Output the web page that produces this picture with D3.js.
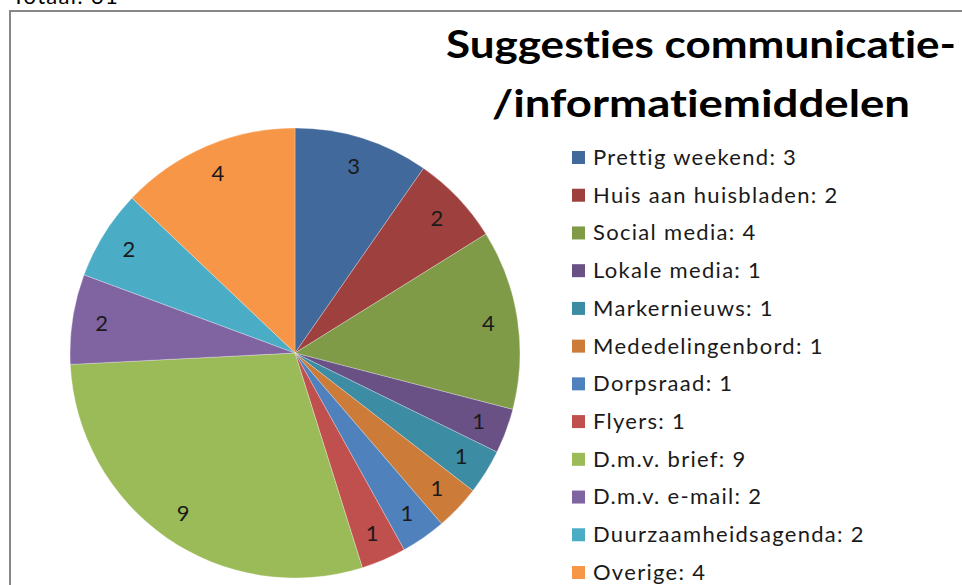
<!DOCTYPE html>
<html>
<head>
<meta charset="utf-8">
<script src="https://cdn.jsdelivr.net/npm/d3@7"></script>
<style>
  body { margin: 0; background: #fff; }
  svg { display: block; font-family: Lato, "Open Sans", sans-serif; font-variant-ligatures: none; }
</style>
</head>
<body>
<div id="chart"></div>
<script>
// Chart data
const categories = ["Prettig weekend", "Huis aan huisbladen", "Social media", "Lokale media",
  "Markernieuws", "Mededelingenbord", "Dorpsraad", "Flyers", "D.m.v. brief",
  "D.m.v. e-mail", "Duurzaamheidsagenda", "Overige"];
const counts = [3, 2, 4, 1, 1, 1, 1, 1, 9, 2, 2, 4];
const colors = ["#41699b", "#9e413e", "#7f9b48", "#695186", "#3c8ca3", "#cc7b38",
  "#4f81bd", "#c0504d", "#9bbb59", "#8064a2", "#4bacc6", "#f79646"];
const titleLines = ["Suggesties communicatie-", "/informatiemiddelen"];
const totalLabel = "Totaal: 31";

const width = 962;
const height = 585;

const svg = d3.select("#chart")
  .append("svg")
  .attr("width", width)
  .attr("height", height);

// Text above the chart box (cut off at the top, like the screenshot)
svg.append("text")
  .attr("x", 12)
  .attr("y", 4)
  .attr("font-size", 22)
  .attr("letter-spacing", 1.3)
  .attr("fill", "#000")
  .text(totalLabel);

// Chart box
svg.append("rect")
  .attr("x", 10)
  .attr("y", 11)
  .attr("width", 1000)
  .attr("height", 700)
  .attr("fill", "#fff")
  .attr("stroke", "#878787")
  .attr("stroke-width", 2);

// Title
const titleWidths = [510, 418];
svg.append("g")
  .selectAll("text")
  .data(titleLines)
  .enter().append("text")
  .attr("x", 701)
  .attr("y", (d, i) => 58 + i * 59)
  .attr("text-anchor", "middle")
  .attr("font-size", 38)
  .attr("font-weight", "bold")
  .attr("fill", "#000")
  .attr("textLength", (d, i) => titleWidths[i])
  .attr("lengthAdjust", "spacingAndGlyphs")
  .text(d => d);

// Pie
const cx = 295, cy = 353, radius = 225;
const pie = d3.pie().sort(null).value(d => d.value);
const slices = pie(categories.map((c, i) => ({ name: c, value: counts[i], color: colors[i] })));
const arc = d3.arc().innerRadius(0).outerRadius(radius);
const labelArc = d3.arc().innerRadius(radius * 0.87).outerRadius(radius * 0.87);

const pieG = svg.append("g").attr("transform", `translate(${cx},${cy})`);

pieG.selectAll("path")
  .data(slices)
  .enter().append("path")
  .attr("d", arc)
  .attr("fill", d => d.data.color)
  .attr("stroke", "#ffffff")
  .attr("stroke-opacity", 0.35)
  .attr("stroke-width", 0.8);

pieG.selectAll("text")
  .data(slices)
  .enter().append("text")
  .attr("transform", d => `translate(${labelArc.centroid(d)})`)
  .attr("text-anchor", "middle")
  .attr("dy", "0.35em")
  .attr("font-size", 22)
  .attr("fill", "#1a1a1a")
  .text(d => d.data.value);

// Legend
const legendY = d3.scalePoint().domain(categories).range([157, 572]);

const legend = svg.append("g")
  .selectAll("g")
  .data(categories)
  .enter().append("g")
  .attr("transform", d => `translate(572,${legendY(d)})`);

legend.append("rect")
  .attr("x", 0)
  .attr("y", -6)
  .attr("width", 13)
  .attr("height", 13)
  .attr("fill", (d, i) => colors[i]);

legend.append("text")
  .attr("x", 21)
  .attr("dy", "0.36em")
  .attr("font-size", 22)
  .attr("letter-spacing", 1.3)
  .attr("fill", "#1a1a1a")
  .text((d, i) => `${d}: ${counts[i]}`);
</script>
</body>
</html>
